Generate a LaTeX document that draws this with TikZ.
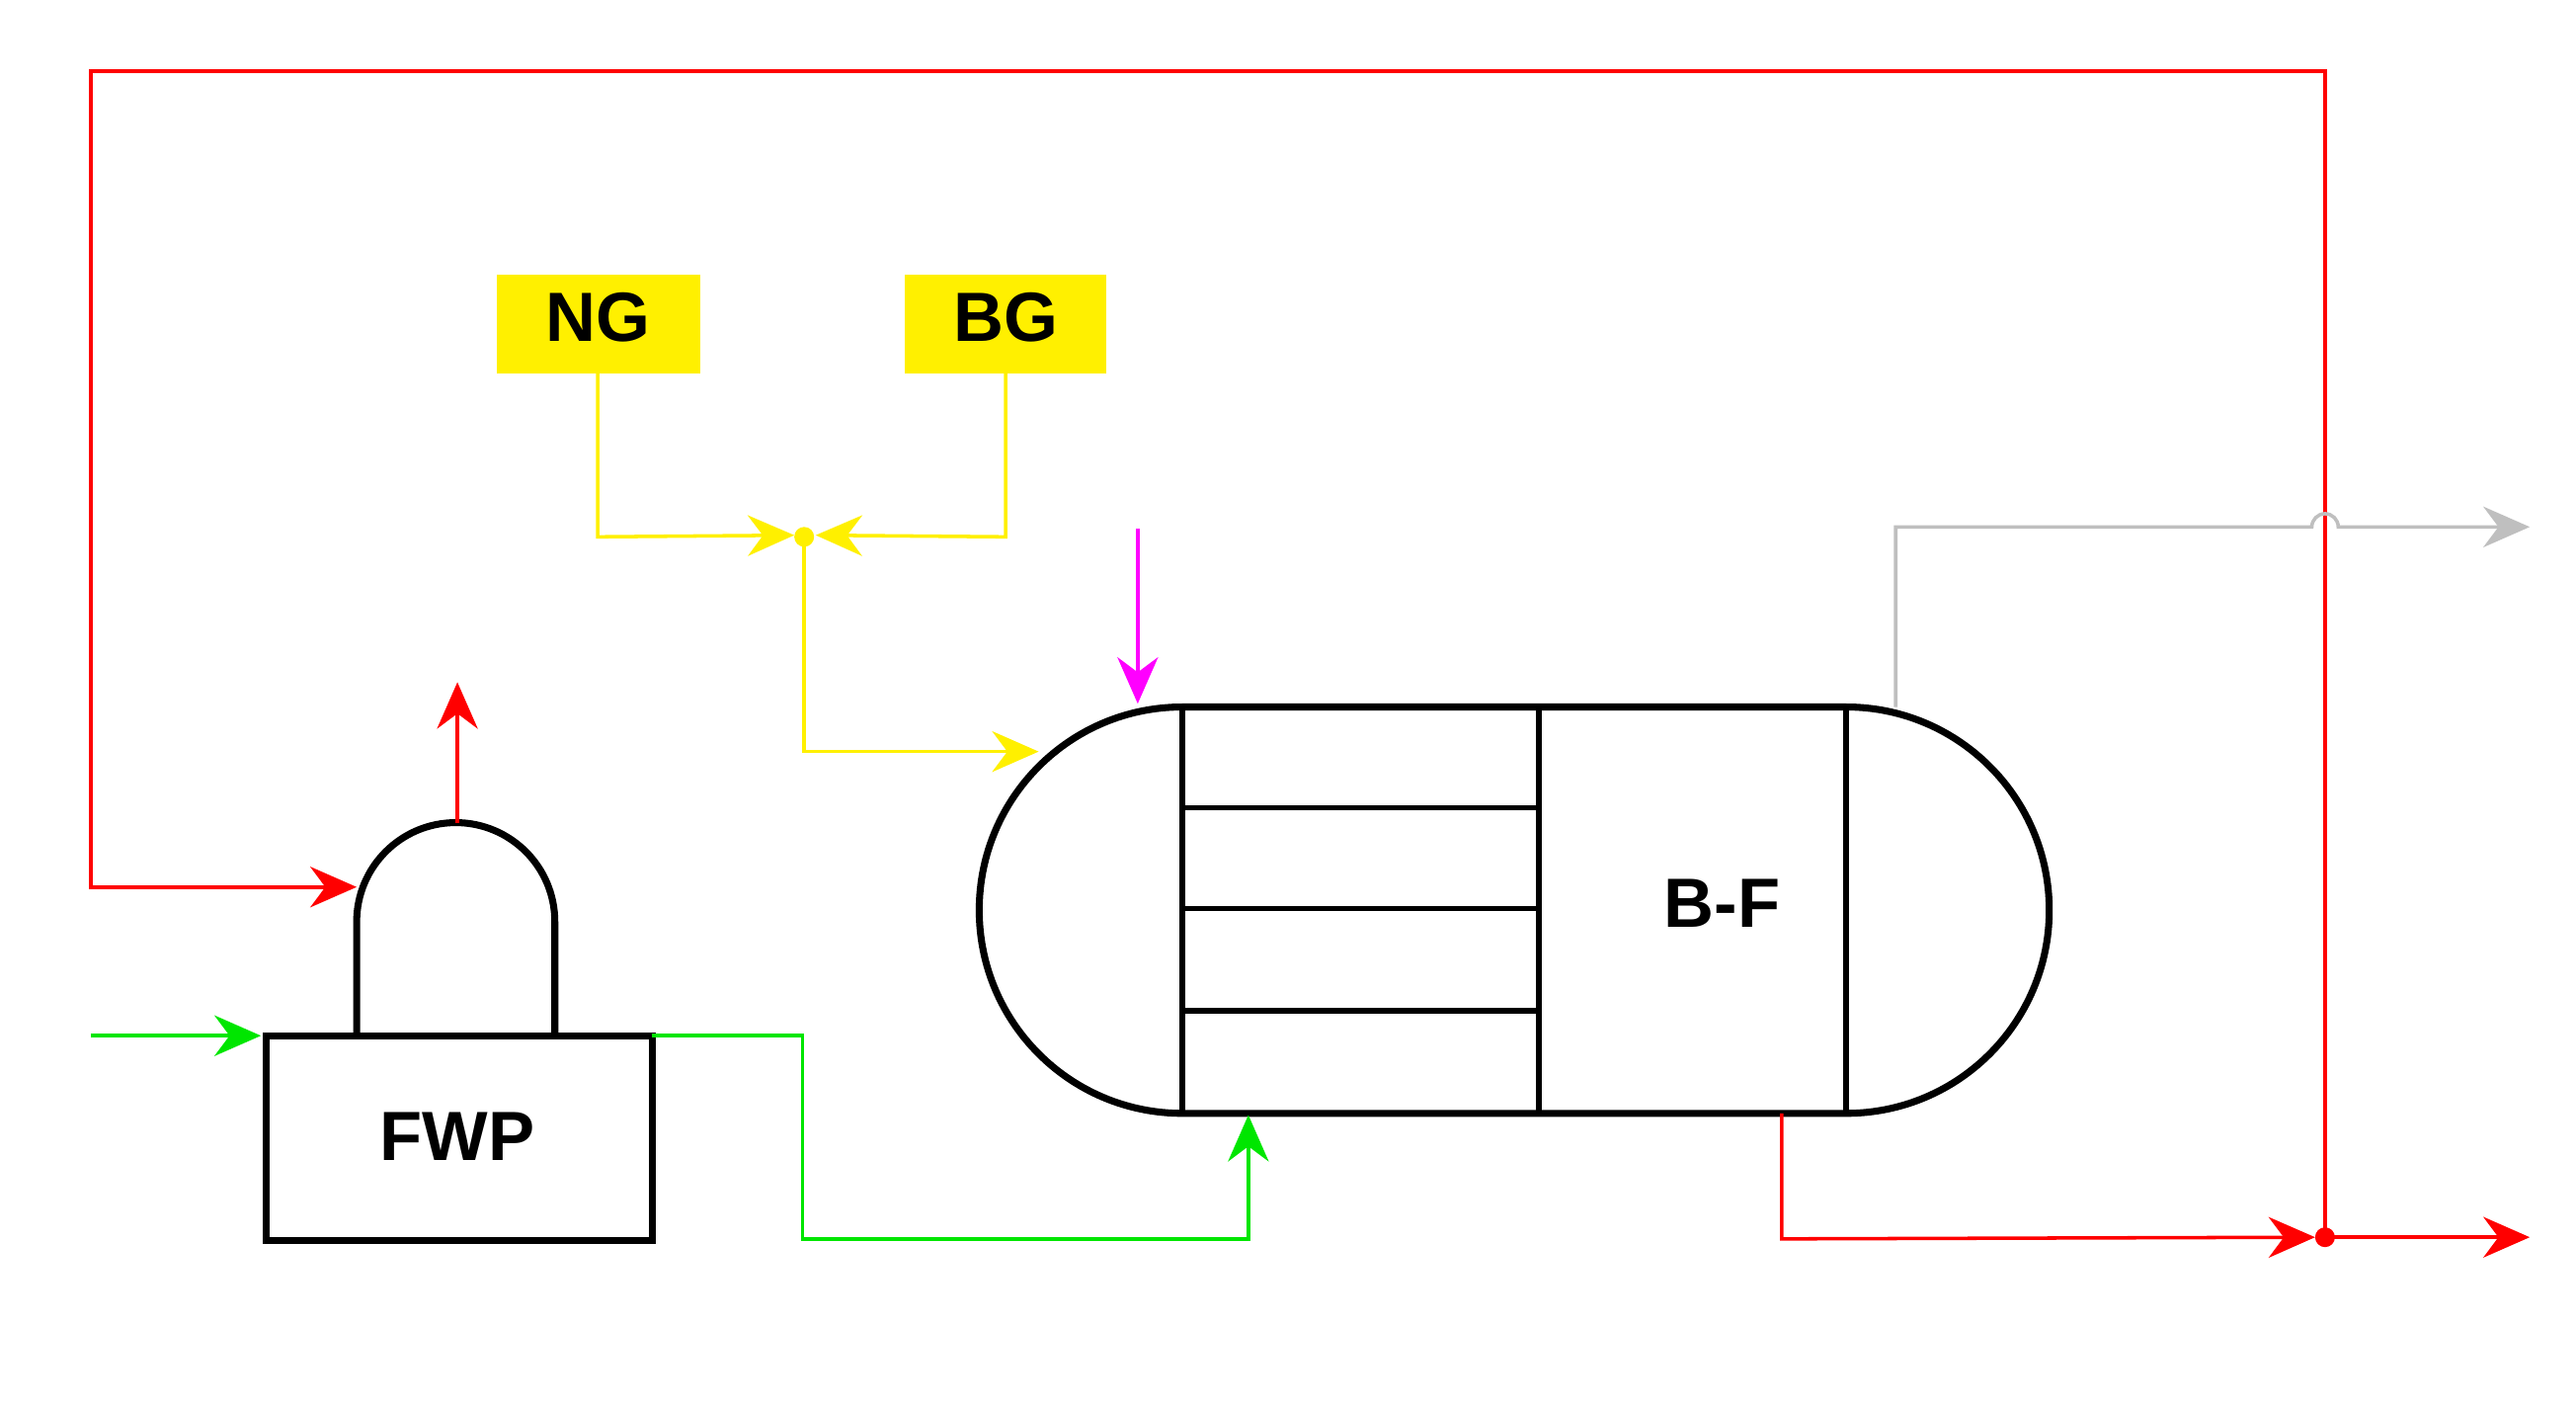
\documentclass[tikz,border=0pt]{standalone}
\usepackage{fontspec}
\setmainfont{Liberation Sans}
\usetikzlibrary{arrows.meta}
\begin{document}
\begin{tikzpicture}[x=0.01cm,y=-0.01cm,
  eq/.style={line width=1.2pt,draw=black},
  pipe/.style={line width=0.6pt,-{Stealth[length=8pt,width=7pt]}},
  lbl/.style={font=\bfseries\fontsize{12}{14}\selectfont}]
\useasboundingbox (0,0) rectangle (1560,852);
\definecolor{gr}{RGB}{0,230,0}
\definecolor{yl}{RGB}{255,240,0}
\definecolor{mg}{RGB}{255,0,255}
% NG, BG boxes
\fill[yl] (301,166) rectangle (424,226);
\fill[yl] (548,166) rectangle (670,226);
\node[lbl] (ng) at (362,192) {NG};
\node[lbl] (bg) at (609,192) {BG};
\coordinate (ngb) at (362,226);
\coordinate (bgb) at (609,226);
\coordinate (mix) at (487,325);
% FWP
\draw[eq] (161,627) rectangle (395,751);
\node[lbl] (fwp) at (277,688) {FWP};
\draw[eq] (216,627) -- (216,558) arc[start angle=180,end angle=360,radius=60] -- (336,627);
% B-F vessel
\draw[eq] (716,428) -- (1118,428) arc[start angle=-90,end angle=90,radius=123] -- (716,674) arc[start angle=90,end angle=270,radius=123] -- cycle;
\draw[line width=0.9pt] (716,428) -- (716,674) (932,428) -- (932,674) (1118,428) -- (1118,674)
  (716,489) -- (932,489) (716,550) -- (932,550) (716,612) -- (932,612);
\node[lbl] (bf) at (1043,547) {B-F};
% red loop
\coordinate (jn) at (1408,749);
\draw[red,pipe] (jn) -- (1408,43) -- (55,43) -- (55,537) -- (216,537);
\draw[red,pipe] (277,498) -- (277,413);
\draw[red,pipe] (1079,674) -- (1079,750) -- (1402,749);
\draw[red,pipe] (jn) -- (1532,749);
\fill[red] (jn) circle (6);
% green
\draw[gr,pipe] (55,627) -- (158,627);
\draw[gr,pipe] (395,627) -- (486,627) -- (486,750) -- (756,750) -- (756,675);
% yellow
\draw[yl,pipe] (ngb) -- (362,325) -- (481,324);
\draw[yl,pipe] (bgb) -- (609,325) -- (494,324);
\draw[yl,pipe] (mix) -- (487,455) -- (629,455);
\fill[yl] (mix) circle (6);
% magenta
\draw[mg,pipe] (689,320) -- (689,426);
% gray
\draw[gray!50,pipe] (1148,428) -- (1148,319) -- (1400,319) arc[start angle=180,end angle=360,radius=8] -- (1532,319);
\end{tikzpicture}
\end{document}
